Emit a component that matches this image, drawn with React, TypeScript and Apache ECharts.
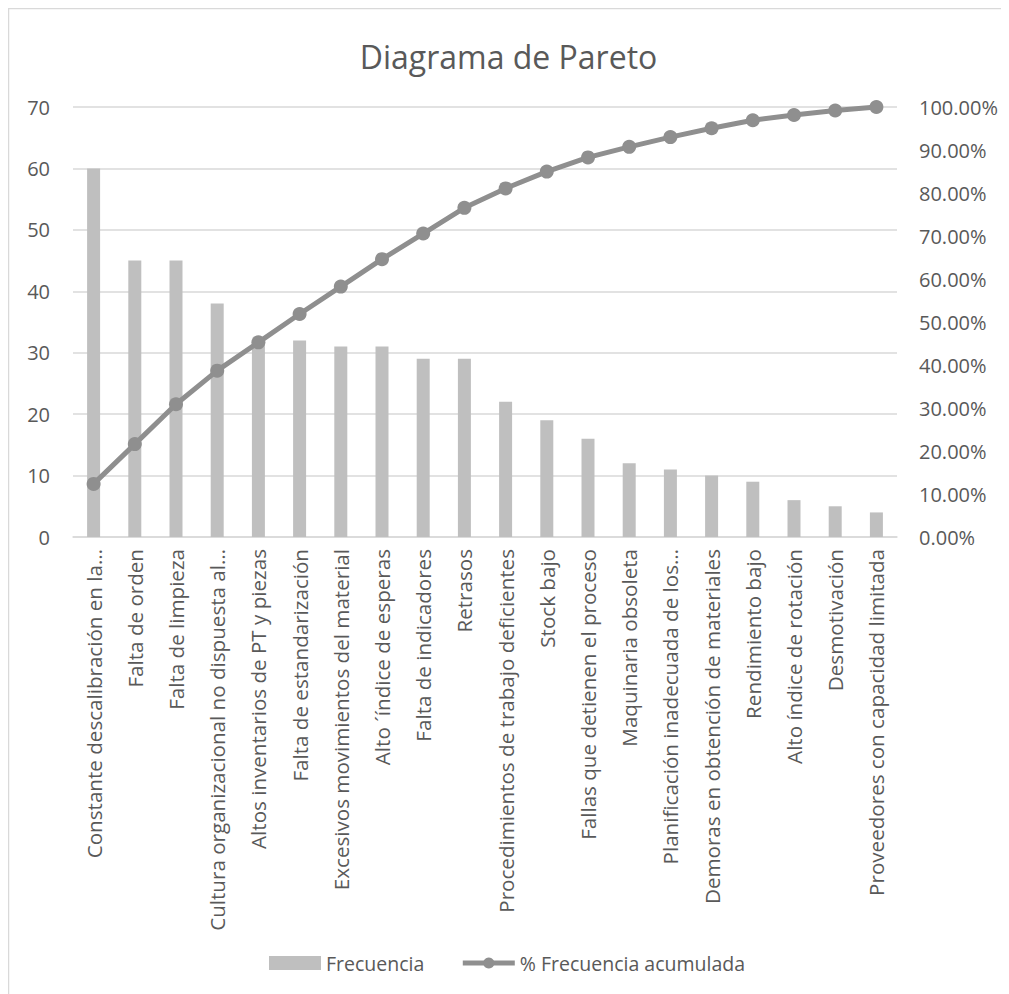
import React, { useEffect, useRef } from "react";
import * as echarts from "echarts";

// Causes, ordered from most to least frequent
const categorias: string[] = [
  "Constante descalibración en la…",
  "Falta de orden",
  "Falta de limpieza",
  "Cultura organizacional no dispuesta al…",
  "Altos inventarios de PT y piezas",
  "Falta de estandarización",
  "Excesivos movimientos del material",
  "Alto ´índice de esperas",
  "Falta de indicadores",
  "Retrasos",
  "Procedimientos de trabajo deficientes",
  "Stock bajo",
  "Fallas que detienen el proceso",
  "Maquinaria obsoleta",
  "Planificación inadecuada de los…",
  "Demoras en obtención de materiales",
  "Rendimiento bajo",
  "Alto índice de rotación",
  "Desmotivación",
  "Proveedores con capacidad limitada",
];

const frecuencia: number[] = [60, 45, 45, 38, 32, 32, 31, 31, 29, 29, 22, 19, 16, 12, 11, 10, 9, 6, 5, 4];

// Cumulative share of the total frequency
const total = frecuencia.reduce((a, b) => a + b, 0);
const acumulada: number[] = (() => {
  let run = 0;
  return frecuencia.map((v) => {
    run += v;
    return run / total;
  });
})();

const TEXT = "#595959";
const FONT = "Open Sans";
const LINE = "#8f8f8f";

export default function App() {
  const ref = useRef<HTMLDivElement>(null);

  useEffect(() => {
    if (!ref.current) return;
    const chart = echarts.init(ref.current, undefined, { renderer: "svg" });
    chart.setOption({
      animation: false,
      backgroundColor: "#ffffff",
      textStyle: { fontFamily: FONT, color: TEXT },
      title: {
        text: "Diagrama de Pareto",
        left: "center",
        top: 27,
        textStyle: { fontFamily: FONT, fontSize: 32, fontWeight: "normal", color: TEXT },
      },
      graphic: [
        {
          type: "rect",
          shape: { x: 0.5, y: 0.5, width: 1200, height: 1200 },
          style: { fill: "none", stroke: "#d9d9d9", lineWidth: 1.5 },
          silent: true,
          z: -1,
        },
      ],
      grid: { left: 65, right: 112, top: 99, bottom: 457, containLabel: false },
      legend: {
        left: 261,
        top: 945,
        padding: 0,
        itemWidth: 52,
        itemHeight: 14,
        itemGap: 36,
        textStyle: { fontFamily: FONT, fontSize: 19.5, color: TEXT },
        data: [
          { name: "Frecuencia", icon: "rect" },
          { name: "% Frecuencia acumulada", lineStyle: { width: 5, color: LINE } },
        ],
      },
      xAxis: {
        type: "category",
        data: categorias,
        axisLine: { lineStyle: { color: "#d9d9d9", width: 1.5 } },
        axisTick: { show: false },
        axisLabel: {
          interval: 0,
          rotate: 90,
          margin: 12,
          fontFamily: FONT,
          fontSize: 20.6,
          color: TEXT,
        },
      },
      yAxis: [
        {
          type: "value",
          min: 0,
          max: 70,
          interval: 10,
          axisLine: { show: false },
          axisTick: { show: false },
          axisLabel: { margin: 23, fontFamily: FONT, fontSize: 20, color: TEXT },
          splitLine: { lineStyle: { color: "#d9d9d9", width: 1.5 } },
        },
        {
          type: "value",
          min: 0,
          max: 1,
          interval: 0.1,
          axisLine: { show: false },
          axisTick: { show: false },
          splitLine: { show: false },
          axisLabel: {
            margin: 22,
            fontFamily: FONT,
            fontSize: 20,
            color: TEXT,
            formatter: (v: number) => (v * 100).toFixed(2) + "%",
          },
        },
      ],
      series: [
        {
          name: "Frecuencia",
          type: "bar",
          data: frecuencia,
          barWidth: 13,
          itemStyle: { color: "#bfbfbf" },
        },
        {
          name: "% Frecuencia acumulada",
          type: "line",
          yAxisIndex: 1,
          data: acumulada,
          symbol: "circle",
          symbolSize: 14,
          lineStyle: { color: LINE, width: 5 },
          itemStyle: { color: LINE },
          z: 3,
        },
      ],
    });
    return () => chart.dispose();
  }, []);

  return <div ref={ref} style={{ width: 1001, height: 986 }} />;
}
